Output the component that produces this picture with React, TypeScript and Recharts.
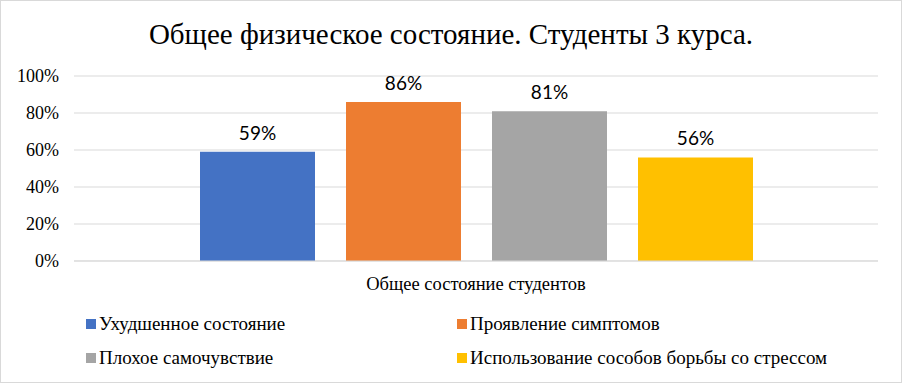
import { BarChart, Bar, XAxis, YAxis, CartesianGrid, LabelList } from 'recharts';

const categories = ['Общее состояние студентов'];
const seriesNames = [
  'Ухудшенное состояние',
  'Проявление симптомов',
  'Плохое самочувствие',
  'Использование сособов борьбы со стрессом',
];
const seriesKeys = ['s1', 's2', 's3', 's4'];
const seriesValues = [59, 86, 81, 56];
const seriesColors = ['#4472c4', '#ed7d31', '#a5a5a5', '#ffc000'];
const yTicks = [0, 20, 40, 60, 80, 100];

const data = categories.map((name) => {
  const row: Record<string, string | number> = { name };
  seriesKeys.forEach((k, i) => {
    row[k] = seriesValues[i];
  });
  return row;
});

const serif = '"Liberation Serif", "Times New Roman", serif';
const sans = 'Lato, "Open Sans", sans-serif';

export default function App() {
  return (
    <div
      style={{
        position: 'absolute',
        left: 0,
        top: 0,
        width: 902,
        height: 383,
        border: '1px solid #d9d9d9',
        boxSizing: 'border-box',
        background: '#fff',
      }}
    >
      <div
        style={{
          position: 'absolute',
          left: 0,
          right: 0,
          top: 17,
          textAlign: 'center',
          fontFamily: serif,
          fontSize: 29,
          color: '#000',
        }}
      >
        Общее физическое состояние. Студенты 3 курса.
      </div>
      <BarChart
        width={900}
        height={381}
        data={data}
        margin={{ top: 75, right: 23, bottom: 91, left: 0 }}
        barCategoryGap={126}
        barGap={31}
      >
        <CartesianGrid vertical={false} stroke="#d9d9d9" />
        <XAxis
          dataKey="name"
          tickLine={false}
          axisLine={{ stroke: '#d9d9d9' }}
          tickSize={0}
          tickMargin={16}
          height={30}
          tick={{ fontFamily: serif, fontSize: 18.5, fill: '#000' }}
        />
        <YAxis
          domain={[0, 100]}
          ticks={yTicks}
          tickFormatter={(v) => `${v}%`}
          width={73}
          tickLine={false}
          axisLine={false}
          tickSize={0}
          tickMargin={15}
          tick={{ fontFamily: serif, fontSize: 18, fill: '#000' }}
        />
        {seriesKeys.map((k, i) => (
          <Bar key={k} dataKey={k} name={seriesNames[i]} fill={seriesColors[i]} isAnimationActive={false}>
            <LabelList
              dataKey={k}
              position="top"
              offset={12}
              formatter={(v: number) => `${v}%`}
              style={{ fontFamily: sans, fontSize: 19, fill: '#000' }}
            />
          </Bar>
        ))}
      </BarChart>
      {seriesNames.map((n, i) => (
        <div
          key={n}
          style={{
            position: 'absolute',
            left: i % 2 === 0 ? 85 : 456,
            top: i < 2 ? 312 : 346,
            display: 'flex',
            alignItems: 'center',
            fontFamily: serif,
            fontSize: 19,
            color: '#000',
            whiteSpace: 'nowrap',
          }}
        >
          <span
            style={{ width: 10, height: 10, background: seriesColors[i], marginRight: 3, display: 'inline-block' }}
          />
          {n}
        </div>
      ))}
    </div>
  );
}
